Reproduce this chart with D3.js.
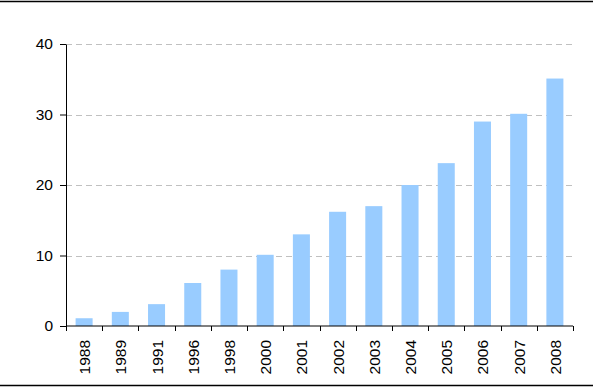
<!DOCTYPE html>
<html>
<head>
<meta charset="utf-8">
<script src="https://cdn.jsdelivr.net/npm/d3@7"></script>
<style>
  body { margin: 0; background: #fff; }
</style>
</head>
<body>
<script>
// values
const years = ['1988', '1989', '1991', '1996', '1998', '2000', '2001',
  '2002', '2003', '2004', '2005', '2006', '2007', '2008'];
const values = [1.1, 2, 3.1, 6.1, 8, 10.1, 13, 16.2, 17, 20, 23.1, 29, 30.1, 35.1];
const yTicks = [0, 10, 20, 30, 40];

const font = '"Liberation Sans", Arial, sans-serif';

const svg = d3.select('body')
  .append('svg')
  .attr('width', 593)
  .attr('height', 387);

const margin = { top: 44, right: 20, bottom: 61, left: 66 };
const width = svg.attr('width') - margin.left - margin.right;
const height = svg.attr('height') - margin.top - margin.bottom;

// frame lines top and bottom
svg.append('line')
  .attr('x1', 0).attr('x2', 593)
  .attr('y1', 1.5).attr('y2', 1.5)
  .attr('stroke', 'black')
  .attr('stroke-width', 1.5);
svg.append('line')
  .attr('x1', 0).attr('x2', 593)
  .attr('y1', 385.5).attr('y2', 385.5)
  .attr('stroke', 'black')
  .attr('stroke-width', 1.5);

const g = svg.append('g')
  .attr('transform', `translate(${margin.left} ${margin.top})`);

const x = d3.scaleBand()
  .domain(years)
  .range([0, width])
  .paddingInner(0.53)
  .paddingOuter(0.265);

const y = d3.scaleLinear()
  .domain([0, 40])
  .range([height, 0]);

// gridlines
g.selectAll('.grid')
  .data(yTicks.filter(d => d > 0))
  .enter()
    .append('line')
    .attr('class', 'grid')
    .attr('x1', 0)
    .attr('x2', width)
    .attr('y1', d => Math.round(y(d)) + 0.5)
    .attr('y2', d => Math.round(y(d)) + 0.5)
    .attr('stroke', '#c0c0c0')
    .attr('stroke-dasharray', '6,4');

g.selectAll('.bar')
  .data(values)
  .enter()
    .append('rect')
    .attr('class', 'bar')
    .attr('x', (d, i) => x(years[i]))
    .attr('y', d => y(d))
    .attr('width', x.bandwidth())
    .attr('height', d => height - y(d))
    .attr('fill', '#99ccff');

// y axis
const yAxis = g.append('g')
  .call(d3.axisLeft(y).tickValues(yTicks).tickSize(6).tickPadding(7).tickSizeOuter(0));
yAxis.attr('font-family', font);
yAxis.selectAll('text')
  .attr('font-size', 15.5)
  .attr('fill', '#000');

// x axis with ticks at the band edges
const xAxis = g.append('g')
  .attr('transform', `translate(0 ${height})`)
  .attr('font-family', font);
xAxis.append('line')
  .attr('x1', 0).attr('x2', width)
  .attr('y1', 0).attr('y2', 0)
  .attr('stroke', 'black');
const step = x.step();
xAxis.selectAll('.tick')
  .data(d3.range(years.length + 1))
  .enter()
    .append('line')
    .attr('class', 'tick')
    .attr('x1', i => Math.round(i * step) + 0.5)
    .attr('x2', i => Math.round(i * step) + 0.5)
    .attr('y1', 0)
    .attr('y2', 5)
    .attr('stroke', 'black');
xAxis.selectAll('.label')
  .data(years)
  .enter()
    .append('text')
    .attr('class', 'label')
    .attr('transform', d => `translate(${x(d) + x.bandwidth() / 2 + 6} 14) rotate(-90)`)
    .attr('text-anchor', 'end')
    .attr('font-size', 15.5)
    .text(d => d);
</script>
</body>
</html>
